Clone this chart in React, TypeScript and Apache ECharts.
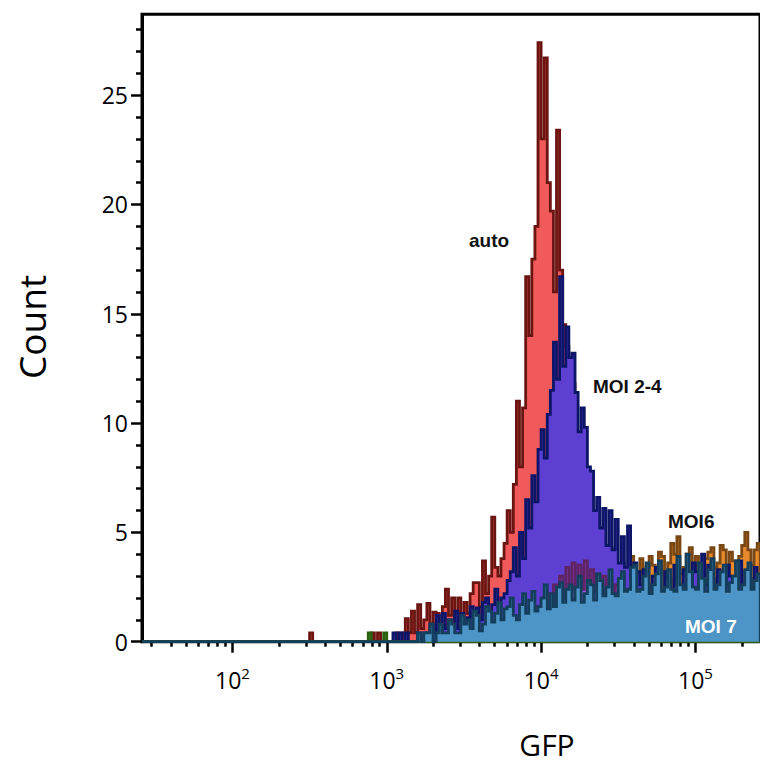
import React, { useEffect, useRef } from "react";
import * as echarts from "echarts";

// ---- axis definition (log10 units of GFP intensity) ----
const X_MIN_EXP = 1.414; // ~26
const X_MAX_EXP = 5.4185; // 262144
const Y_MAX = 28.7;
const BIN_STEP = 0.02; // decades per histogram channel

const majorExps = [2, 3, 4, 5];
const minorMultipliers = [2, 3, 4, 5, 6, 7, 8, 9];
const minorDecades = [1, 2, 3, 4, 5];
const yMajorTicks = [0, 5, 10, 15, 20, 25];
const yMinorTicks = [1, 2, 3, 4, 6, 7, 8, 9, 11, 12, 13, 14, 16, 17, 18, 19, 21, 22, 23, 24, 26, 27, 28];

// ---- histogram counts per channel ----
const autoStart = 2.5;
const autoCounts = [
  0.4, 0, 0, 0, 0, 0, 0, 0, 0, 0, 0, 0, 0, 0, 0, 0, 0, 0, 0, 0,
  0.4, 0, 0.4, 0, 0, 0, 0, 0, 0.4, 0, 0.4,
  1.05, 0.4, 1.4, 0.4, 1.7, 0.6, 1.0, 1.75, 0.5, 1.35,
  1.3, 0.8, 1.6, 2.4, 1.2, 2.0, 1.0, 2.0, 1.0, 1.8,
  1.3, 2.2, 2.7, 2.7, 1.6, 3.7, 2.2, 3.0, 5.7, 3.4,
  3.0, 3.8, 4.5, 6.0, 5.0, 7.2, 11.0, 8.0, 10.7, 16.7,
  14.0, 17.5, 19.0, 27.4, 23.0, 26.7, 21.0, 19.7, 16.0, 23.4,
  17.0, 14.5, 13.5, 12.0, 11.8, 9.0, 8.0, 6.0, 5.0, 4.0,
  3.0, 2.5, 2.0, 1.6, 1.2, 1.0, 0.8, 0.4, 0.4, 0,
];

const moi6Start = 3.5;
const moi6Counts = [
  0.4, 0.8, 0.4, 1.0, 0.5, 1.1, 0.6, 1.2, 0.8, 1.4, 0.9,
  1.5, 1.0, 1.7, 1.2, 1.8, 1.3, 2.0, 1.5, 2.1, 1.6,
  2.2, 1.7, 2.4, 1.8, 2.6, 2.0, 2.8, 2.1, 2.7, 2.9,
  2.3, 3.0, 2.4, 3.1, 2.5, 3.2, 2.6, 3.3, 2.7, 3.4,
  2.8, 3.2, 3.5, 2.8, 3.3, 3.6, 4.3, 2.9, 3.5, 2.8,
  3.6, 3.3, 3.0, 3.9, 3.1, 2.9, 3.8, 3.2, 3.4, 3.9,
  3.5, 3.0, 4.1, 3.9, 3.2, 3.6, 4.5, 4.0, 4.8, 3.1,
  3.4, 4.0, 4.3, 3.3, 3.9, 3.6, 3.2, 3.8, 4.1, 4.3,
  3.4, 3.6, 4.4, 4.2, 3.4, 4.1, 3.7, 3.3, 3.9, 4.4,
  5.0, 4.2, 3.5, 4.2, 4.5,
];

const moi24Start = 3.04;
const moi24Counts = [
  0.4, 0, 0.4, 0, 0.4, 0, 0, 0, 0.4, 0, 0.4, 0,
  0.8, 0.4, 1.2, 0.4, 1.3, 0.6, 1.0, 0.4, 1.4, 0.6, 1.3, 0.7,
  1.1, 1.6, 0.8, 1.55, 1.0, 1.8, 2.0, 1.2, 1.7, 2.4, 1.6, 2.0,
  2.2, 2.8, 3.2, 4.3, 3.0, 5.0, 3.8, 6.5, 5.2, 7.6, 6.4, 8.8,
  9.7, 8.4, 10.4, 11.5, 13.7, 12.0, 16.7, 12.6, 14.4, 13.0, 13.2, 11.4,
  9.6, 10.7, 9.8, 8.0, 7.8, 6.0, 6.6, 5.2, 6.1, 4.4, 6.0, 4.2,
  5.6, 3.6, 4.8, 3.4, 5.3, 3.0, 3.6, 3.2, 2.6,
  3.3, 2.6, 2.2, 3.0, 3.4, 2.3, 2.1, 3.2, 2.9, 2.4, 3.5, 2.6,
  2.3, 3.3, 3.0, 2.4, 3.6, 3.2, 2.5, 4.0, 2.6, 3.5, 2.9, 2.4,
  3.3, 2.7, 2.5, 3.5, 3.0, 2.4, 2.8, 3.7, 2.6, 3.2, 2.9, 2.4,
  3.4, 3.0,
];

const plumStart = 3.9;
const plumCounts = [
  0.6, 1.2, 0.7, 1.6, 1.0, 1.9, 1.2, 2.2, 1.5, 2.6,
  1.8, 3.0, 2.0, 3.4, 2.3, 3.6, 2.4, 3.5, 2.4, 3.7,
  2.6, 3.3, 2.3, 3.1, 2.2, 3.0, 2.0, 2.8, 1.8, 2.6,
  1.6, 2.3, 1.4, 2.0, 1.2, 1.8, 1.0, 1.5, 0.8, 1.0,
];

const greenStart = 2.88;
const greenCounts = [0.4, 0, 0, 0, 0, 0.4, 0, 0];

const moi7Start = 3.2;
const moi7Counts = [
  0.4, 0, 0.4, 0.4, 0.8, 0, 0.4, 0.8, 0.4, 0.4, 1.0, 0.8, 0.4, 0.4, 1.2,
  0.8, 1.0, 0.6, 1.4, 1.2, 0.5, 0.8, 1.6, 1.4, 0.9,
  1.3, 1.8, 1.0, 1.5, 1.6, 2.0, 1.2, 1.0, 1.7, 2.2, 1.3,
  1.9, 2.3, 1.4, 1.6, 2.0, 2.6, 1.5, 2.2, 1.6, 2.5,
  2.7, 1.8, 2.4, 2.6, 1.9, 2.5, 3.0, 1.8, 2.2, 2.8,
  2.6, 1.9, 3.1, 2.8, 2.1, 2.5, 3.3, 2.2, 2.1, 2.9,
  3.2, 2.3, 2.4, 3.4, 3.5, 2.3, 2.4, 3.0, 3.6, 2.2,
  2.6, 3.1, 3.7, 2.3, 2.5, 3.3, 2.4, 2.3, 3.9, 2.6,
  2.4, 4.0, 3.2, 2.5, 2.4, 3.6, 2.9, 2.3, 3.3, 3.8,
  2.4, 2.6, 3.2, 3.5, 2.3, 2.7, 3.0, 3.7, 2.4, 2.6,
  3.3, 3.6, 2.4, 2.8, 3.1,
];

const seriesNames = ["auto", "MOI6", "MOI 2-4", "plum", "green", "MOI 7"];

// each channel holds its count from its left edge to the next edge (step histogram)
function histogramPoints(start: number, counts: number[]): number[][] {
  const pts: number[][] = [[X_MIN_EXP, 0]];
  counts.forEach((c, i) => pts.push([start + i * BIN_STEP, c]));
  const end = start + counts.length * BIN_STEP;
  pts.push([end, 0]);
  if (end < X_MAX_EXP) pts.push([X_MAX_EXP, 0]);
  return pts;
}

const FONT = '"Open Sans", "Noto Sans", sans-serif';
const LABEL_FONT = '"Liberation Sans", Arial, sans-serif';

export default function App() {
  const ref = useRef<HTMLDivElement>(null);

  useEffect(() => {
    if (!ref.current) return;
    const chart = echarts.init(ref.current, undefined, { renderer: "svg" });

    const minorX: number[] = [];
    minorDecades.forEach((d) =>
      minorMultipliers.forEach((k) => {
        const v = d + Math.log10(k);
        if (v > X_MIN_EXP && v < X_MAX_EXP) minorX.push(v);
      })
    );

    const mk = (idx: number, start: number, counts: number[], fill: string, line: string) => ({
      name: seriesNames[idx],
      type: "line",
      step: "end",
      z: 3 + idx,
      xAxisIndex: 0,
      yAxisIndex: 0,
      symbol: "none",
      data: histogramPoints(start, counts),
      lineStyle: { color: line, width: 2.8, join: "miter" },
      areaStyle: { color: fill, opacity: 1 },
      itemStyle: { color: line },
    });

    chart.setOption({
      animation: false,
      backgroundColor: "#ffffff",
      grid: {
        left: 142,
        top: 14.3,
        right: -7.6,
        bottom: 764 - 641.7,
        show: true,
        borderColor: "#000",
        borderWidth: 3,
        backgroundColor: "transparent",
      },
      xAxis: [
        {
          type: "value",
          min: X_MIN_EXP,
          max: X_MAX_EXP,
          splitLine: { show: false },
          axisLine: { show: true, lineStyle: { color: "#000", width: 3 } },
          axisTick: {
            show: true,
            customValues: majorExps,
            length: 11,
            lineStyle: { color: "#000", width: 2.5 },
          },
          axisLabel: {
            show: true,
            customValues: majorExps,
            margin: 24,
            formatter: (v: number) => `{b|10}{s|${Math.round(v)}}`,
            rich: {
              b: { fontSize: 23, fontFamily: FONT, color: "#000" },
              s: { fontSize: 15, fontFamily: FONT, color: "#000", padding: [0, 0, 14, 0] },
            },
          },
        },
        {
          type: "value",
          min: X_MIN_EXP,
          max: X_MAX_EXP,
          position: "bottom",
          splitLine: { show: false },
          axisLine: { show: false },
          axisTick: {
            show: true,
            customValues: minorX,
            length: 5,
            lineStyle: { color: "#000", width: 2.5 },
          },
          axisLabel: { show: false },
        },
      ],
      yAxis: [
        {
          type: "value",
          min: 0,
          max: Y_MAX,
          splitLine: { show: false },
          axisLine: { show: true, lineStyle: { color: "#000", width: 3 } },
          axisTick: {
            show: true,
            customValues: yMajorTicks,
            length: 11,
            lineStyle: { color: "#000", width: 2.5 },
          },
          axisLabel: {
            show: true,
            customValues: yMajorTicks,
            margin: 14,
            fontSize: 23,
            fontFamily: FONT,
            color: "#000",
          },
        },
        {
          type: "value",
          min: 0,
          max: Y_MAX,
          position: "left",
          splitLine: { show: false },
          axisLine: { show: false },
          axisTick: {
            show: true,
            customValues: yMinorTicks,
            length: 6,
            lineStyle: { color: "#000", width: 2.5 },
          },
          axisLabel: { show: false },
        },
      ],
      series: [
        mk(0, autoStart, autoCounts, "#f05a5a", "#6a1511"),
        mk(1, moi6Start, moi6Counts, "#e88a2c", "#7a4814"),
        mk(2, moi24Start, moi24Counts, "#5d3fd1", "#0c1566"),
        mk(3, plumStart, plumCounts, "#a04fe0", "#5e2463"),
        mk(4, greenStart, greenCounts, "#46a030", "#2a6010"),
        mk(5, moi7Start, moi7Counts, "#4d95c6", "#143f5c"),
      ],
      graphic: [
        {
          type: "text",
          x: 31,
          y: 327,
          rotation: Math.PI / 2,
          style: { text: "Count", font: `37px ${FONT}`, fill: "#000", align: "center", verticalAlign: "middle" },
        },
        {
          type: "text",
          x: 547,
          y: 744,
          style: { text: "GFP", font: `30px ${FONT}`, fill: "#000", align: "center", verticalAlign: "middle" },
        },
        {
          type: "text",
          x: 469,
          y: 240,
          style: { text: "auto", font: `bold 19px ${LABEL_FONT}`, fill: "#111", align: "left", verticalAlign: "middle" },
        },
        {
          type: "text",
          x: 593,
          y: 386,
          style: { text: "MOI 2-4", font: `bold 19px ${LABEL_FONT}`, fill: "#111", align: "left", verticalAlign: "middle" },
        },
        {
          type: "text",
          x: 668,
          y: 521,
          style: { text: "MOI6", font: `bold 19px ${LABEL_FONT}`, fill: "#111", align: "left", verticalAlign: "middle" },
        },
        {
          type: "text",
          x: 685,
          y: 626,
          z: 100,
          style: { text: "MOI 7", font: `bold 19px ${LABEL_FONT}`, fill: "#ffffff", align: "left", verticalAlign: "middle" },
        },
      ],
    });

    return () => chart.dispose();
  }, []);

  return (
    <div
      ref={ref}
      style={{ position: "fixed", left: 0, top: 0, width: 760, height: 764, background: "#fff" }}
    />
  );
}
